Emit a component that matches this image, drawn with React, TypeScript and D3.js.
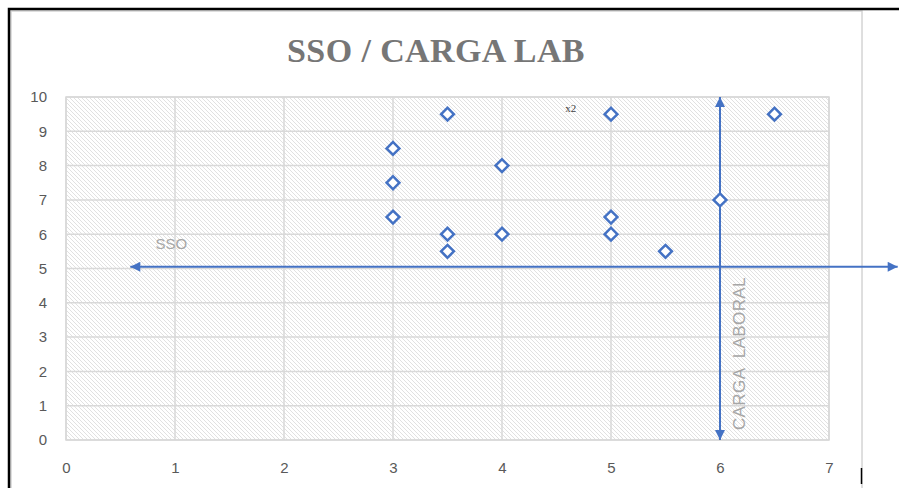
import * as d3 from "d3";
import React from "react";

// scatter values
const xValues = [3.5, 5, 6.5, 3, 4, 3, 6, 3, 5, 3.5, 4, 5, 3.5, 5.5];
const yValues = [9.5, 9.5, 9.5, 8.5, 8, 7.5, 7, 6.5, 6.5, 6, 6, 6, 5.5, 5.5];
const xTicks = [0, 1, 2, 3, 4, 5, 6, 7];
const yTicks = [0, 1, 2, 3, 4, 5, 6, 7, 8, 9, 10];

// the two drawn arrows, in data units
const ssoArrow: Array<[number, number]> = [
  [7.63, 5.05],
  [0.59, 5.05],
];
const cargaArrow: Array<[number, number]> = [
  [6, 0],
  [6, 10],
];
const ssoLabel: [number, number] = [0.82, 5.57];
const cargaLabel: [number, number] = [6.23, 0.29];
const x2Label: [number, number] = [4.58, 9.56];

const title = "SSO / CARGA LAB";

export default function App() {
  const width = 899;
  const height = 488;
  const svgRef = React.useRef<SVGSVGElement | null>(null);

  React.useEffect(() => {
    const svg = d3.select(svgRef.current);
    svg.selectAll("*").remove();
    const margin = { top: 97, right: 70, bottom: 48, left: 66 };
    const blue = "#4472c4";

    const x = d3
      .scaleLinear()
      .domain([0, 7])
      .range([margin.left, width - margin.right]);
    const y = d3
      .scaleLinear()
      .domain([0, 10])
      .range([height - margin.bottom, margin.top]);

    const defs = svg.append("defs");
    const pat = defs
      .append("pattern")
      .attr("id", "hatch")
      .attr("patternUnits", "userSpaceOnUse")
      .attr("width", 4)
      .attr("height", 4);
    pat.append("rect").attr("width", 4).attr("height", 4).attr("fill", "#ffffff");
    pat
      .append("path")
      .attr("d", "M-1,-1L5,5M-1,3L1,5M3,-1L5,1")
      .attr("stroke", "#d9d9d9")
      .attr("stroke-width", 0.8);

    defs
      .append("marker")
      .attr("id", "head")
      .attr("viewBox", "0 0 10 10")
      .attr("refX", 10)
      .attr("refY", 5)
      .attr("markerUnits", "userSpaceOnUse")
      .attr("markerWidth", 11)
      .attr("markerHeight", 10)
      .attr("orient", "auto-start-reverse")
      .append("path")
      .attr("d", "M0,0L10,5L0,10Z")
      .attr("fill", blue);

    // chart frame
    svg
      .append("rect")
      .attr("x", 11)
      .attr("y", 11)
      .attr("width", 851)
      .attr("height", height)
      .attr("fill", "#ffffff")
      .attr("stroke", "#d4d4d4")
      .attr("stroke-width", 1.5);
    svg
      .append("path")
      .attr("d", `M9,${height}V9H${width}`)
      .attr("fill", "none")
      .attr("stroke", "#000000")
      .attr("stroke-width", 2.5);
    svg
      .append("line")
      .attr("x1", 861.5)
      .attr("x2", 861.5)
      .attr("y1", 468)
      .attr("y2", 484)
      .attr("stroke", "#000000")
      .attr("stroke-width", 1.5);

    // plot background
    svg
      .append("rect")
      .attr("x", x(0))
      .attr("y", y(10))
      .attr("width", x(7) - x(0))
      .attr("height", y(0) - y(10))
      .attr("fill", "url(#hatch)")
      .attr("stroke", "#d9d9d9")
      .attr("stroke-width", 1.5);

    svg
      .append("g")
      .selectAll("line")
      .data(yTicks)
      .join("line")
      .attr("x1", x(0))
      .attr("x2", x(7))
      .attr("y1", (d) => y(d))
      .attr("y2", (d) => y(d))
      .attr("stroke", "#d9d9d9")
      .attr("stroke-width", 1.5);
    svg
      .append("g")
      .selectAll("line")
      .data(xTicks)
      .join("line")
      .attr("x1", (d) => x(d))
      .attr("x2", (d) => x(d))
      .attr("y1", y(0))
      .attr("y2", y(10))
      .attr("stroke", "#d9d9d9")
      .attr("stroke-width", 1.5);

    // axes (labels only)
    const yAxis = svg
      .append("g")
      .attr("transform", `translate(${margin.left},0)`)
      .call(
        d3.axisLeft(y).tickValues(yTicks).tickFormat(d3.format("d")).tickSize(0).tickPadding(19)
      );
    const xAxis = svg
      .append("g")
      .attr("transform", `translate(0,${height - margin.bottom})`)
      .call(
        d3.axisBottom(x).tickValues(xTicks).tickFormat(d3.format("d")).tickSize(0).tickPadding(22)
      );
    [yAxis, xAxis].forEach((g) => {
      g.select(".domain").remove();
      g.selectAll("text")
        .attr("fill", "#595959")
        .style("font-family", "'Liberation Sans', Arial, sans-serif")
        .style("font-size", "15px");
    });

    // arrows
    const line = d3
      .line<[number, number]>()
      .x((d) => x(d[0]))
      .y((d) => y(d[1]));
    svg
      .append("path")
      .attr("d", line(ssoArrow) ?? "")
      .attr("fill", "none")
      .attr("stroke", blue)
      .attr("stroke-width", 2)
      .attr("marker-start", "url(#head)")
      .attr("marker-end", "url(#head)");
    svg
      .append("path")
      .attr("d", line(cargaArrow) ?? "")
      .attr("fill", "none")
      .attr("stroke", blue)
      .attr("stroke-width", 2)
      .attr("marker-start", "url(#head)")
      .attr("marker-end", "url(#head)");

    // points
    const diamond = d3.symbol().type(d3.symbolSquare).size(82);
    svg
      .append("g")
      .selectAll("path")
      .data(xValues.map((v, i) => [v, yValues[i]] as [number, number]))
      .join("path")
      .attr("d", diamond() ?? "")
      .attr("transform", (d) => `translate(${x(d[0])},${y(d[1])}) rotate(45)`)
      .attr("fill", "#ffffff")
      .attr("stroke", blue)
      .attr("stroke-width", 2.5);

    // texts
    svg
      .append("text")
      .attr("x", 436)
      .attr("y", 62)
      .attr("text-anchor", "middle")
      .attr("fill", "#767676")
      .style("font-family", "'Liberation Serif', 'DejaVu Serif', serif")
      .style("font-weight", "bold")
      .style("font-size", "34px")
      .style("letter-spacing", "0.4px")
      .text(title);
    svg
      .append("text")
      .attr("x", x(ssoLabel[0]))
      .attr("y", y(ssoLabel[1]))
      .attr("fill", "#a6a6a6")
      .style("font-family", "'Liberation Sans', Arial, sans-serif")
      .style("font-size", "15px")
      .text("SSO");
    svg
      .append("text")
      .attr("transform", `translate(${x(cargaLabel[0])},${y(cargaLabel[1])}) rotate(-90)`)
      .attr("fill", "#a6a6a6")
      .attr("xml:space", "preserve")
      .style("white-space", "pre")
      .style("font-family", "'Liberation Sans', Arial, sans-serif")
      .style("font-size", "17px")
      .style("letter-spacing", "0.4px")
      .text("CARGA  LABORAL");
    svg
      .append("text")
      .attr("x", x(x2Label[0]))
      .attr("y", y(x2Label[1]))
      .attr("fill", "#404040")
      .style("font-family", "'Liberation Serif', serif")
      .style("font-size", "11px")
      .text("x2");
  }, []);

  return (
    <svg
      ref={svgRef}
      width={width}
      height={height}
      viewBox={`0 0 ${width} ${height}`}
      style={{ position: "fixed", left: 0, top: 0, background: "#ffffff" }}
    ></svg>
  );
}
